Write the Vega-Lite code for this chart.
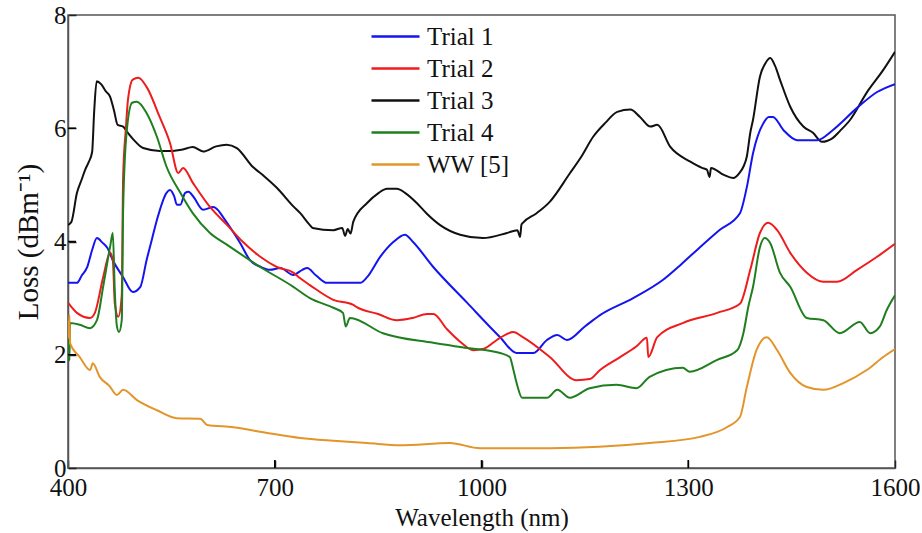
{
  "$schema": "https://vega.github.io/schema/vega-lite/v6.json",
  "width": 827,
  "height": 453,
  "autosize": {"type": "none"},
  "padding": {"left": 68, "top": 15, "right": 27, "bottom": 65},
  "background": "white",
  "config": {
    "font": "Liberation Serif",
    "view": {"stroke": "#555", "strokeWidth": 1.5},
    "axis": {
      "domainColor": "#555",
      "domainWidth": 1.5,
      "ticks": true,
      "tickColor": "#222",
      "tickWidth": 1.5,
      "grid": false,
      "labelFont": "Liberation Serif",
      "labelFontSize": 25,
      "labelColor": "#111",
      "titleFont": "Liberation Serif",
      "titleFontSize": 25,
      "titleFontWeight": "normal",
      "titleColor": "#111"
    },
    "legend": {"labelFont": "Liberation Serif", "labelFontSize": 25, "labelColor": "#111"}
  },
  "datasets": {
    "xticks": [{"wl": 700}, {"wl": 1000}, {"wl": 1300}],
    "yticks": [{"v": 2}, {"v": 4}, {"v": 6}],
    "curves": [
    {"s":"Trial 3","wl":400,"v":4.29},{"s":"Trial 3","wl":405,"v":4.35},{"s":"Trial 3","wl":413,"v":4.86},{"s":"Trial 3","wl":420,"v":5.1},{"s":"Trial 3","wl":425,"v":5.27},{"s":"Trial 3","wl":430,"v":5.4},{"s":"Trial 3","wl":435,"v":5.58},{"s":"Trial 3","wl":438,"v":6.3},{"s":"Trial 3","wl":441.6,"v":6.83},{"s":"Trial 3","wl":448,"v":6.78},{"s":"Trial 3","wl":455,"v":6.65},{"s":"Trial 3","wl":461,"v":6.56},{"s":"Trial 3","wl":467,"v":6.3},{"s":"Trial 3","wl":472,"v":6.06},{"s":"Trial 3","wl":480,"v":6.03},{"s":"Trial 3","wl":485,"v":5.95},{"s":"Trial 3","wl":495,"v":5.8},{"s":"Trial 3","wl":509,"v":5.65},{"s":"Trial 3","wl":533,"v":5.6},{"s":"Trial 3","wl":552,"v":5.6},{"s":"Trial 3","wl":565,"v":5.62},{"s":"Trial 3","wl":581,"v":5.67},{"s":"Trial 3","wl":596,"v":5.59},{"s":"Trial 3","wl":615,"v":5.68},{"s":"Trial 3","wl":630,"v":5.71},{"s":"Trial 3","wl":645,"v":5.65},{"s":"Trial 3","wl":668,"v":5.32},{"s":"Trial 3","wl":685,"v":5.15},{"s":"Trial 3","wl":703,"v":4.95},{"s":"Trial 3","wl":727,"v":4.62},{"s":"Trial 3","wl":737,"v":4.5},{"s":"Trial 3","wl":751,"v":4.29},{"s":"Trial 3","wl":755,"v":4.24},{"s":"Trial 3","wl":785,"v":4.2},{"s":"Trial 3","wl":798,"v":4.24},{"s":"Trial 3","wl":802,"v":4.1},{"s":"Trial 3","wl":806,"v":4.22},{"s":"Trial 3","wl":810,"v":4.14},{"s":"Trial 3","wl":814,"v":4.35},{"s":"Trial 3","wl":834,"v":4.68},{"s":"Trial 3","wl":850,"v":4.85},{"s":"Trial 3","wl":863,"v":4.93},{"s":"Trial 3","wl":877,"v":4.93},{"s":"Trial 3","wl":890,"v":4.85},{"s":"Trial 3","wl":906,"v":4.68},{"s":"Trial 3","wl":920,"v":4.5},{"s":"Trial 3","wl":940,"v":4.29},{"s":"Trial 3","wl":969,"v":4.12},{"s":"Trial 3","wl":1002,"v":4.06},{"s":"Trial 3","wl":1037,"v":4.15},{"s":"Trial 3","wl":1052,"v":4.2},{"s":"Trial 3","wl":1056,"v":4.08},{"s":"Trial 3","wl":1058,"v":4.3},{"s":"Trial 3","wl":1060,"v":4.33},{"s":"Trial 3","wl":1080,"v":4.5},{"s":"Trial 3","wl":1099,"v":4.7},{"s":"Trial 3","wl":1128,"v":5.2},{"s":"Trial 3","wl":1145,"v":5.5},{"s":"Trial 3","wl":1162,"v":5.85},{"s":"Trial 3","wl":1180,"v":6.1},{"s":"Trial 3","wl":1197,"v":6.29},{"s":"Trial 3","wl":1216,"v":6.33},{"s":"Trial 3","wl":1230,"v":6.2},{"s":"Trial 3","wl":1245,"v":6.03},{"s":"Trial 3","wl":1255,"v":6.06},{"s":"Trial 3","wl":1274,"v":5.67},{"s":"Trial 3","wl":1303,"v":5.41},{"s":"Trial 3","wl":1320,"v":5.3},{"s":"Trial 3","wl":1327,"v":5.27},{"s":"Trial 3","wl":1331,"v":5.14},{"s":"Trial 3","wl":1333,"v":5.3},{"s":"Trial 3","wl":1351,"v":5.18},{"s":"Trial 3","wl":1365,"v":5.12},{"s":"Trial 3","wl":1375,"v":5.22},{"s":"Trial 3","wl":1380,"v":5.32},{"s":"Trial 3","wl":1385,"v":5.5},{"s":"Trial 3","wl":1390,"v":5.92},{"s":"Trial 3","wl":1394,"v":6.15},{"s":"Trial 3","wl":1404,"v":6.91},{"s":"Trial 3","wl":1412,"v":7.15},{"s":"Trial 3","wl":1419,"v":7.24},{"s":"Trial 3","wl":1426,"v":7.1},{"s":"Trial 3","wl":1433,"v":6.86},{"s":"Trial 3","wl":1448,"v":6.38},{"s":"Trial 3","wl":1467,"v":6.03},{"s":"Trial 3","wl":1481,"v":5.92},{"s":"Trial 3","wl":1494,"v":5.76},{"s":"Trial 3","wl":1510,"v":5.83},{"s":"Trial 3","wl":1520,"v":5.95},{"s":"Trial 3","wl":1535,"v":6.15},{"s":"Trial 3","wl":1559,"v":6.63},{"s":"Trial 3","wl":1583,"v":7.03},{"s":"Trial 3","wl":1600,"v":7.35},

    {"s":"Trial 1","wl":400,"v":3.27},{"s":"Trial 1","wl":413,"v":3.27},{"s":"Trial 1","wl":420,"v":3.4},{"s":"Trial 1","wl":428,"v":3.55},{"s":"Trial 1","wl":435,"v":3.85},{"s":"Trial 1","wl":442,"v":4.06},{"s":"Trial 1","wl":450,"v":3.98},{"s":"Trial 1","wl":457,"v":3.89},{"s":"Trial 1","wl":465,"v":3.67},{"s":"Trial 1","wl":480,"v":3.37},{"s":"Trial 1","wl":494,"v":3.11},{"s":"Trial 1","wl":505,"v":3.2},{"s":"Trial 1","wl":514,"v":3.67},{"s":"Trial 1","wl":522,"v":4.05},{"s":"Trial 1","wl":529,"v":4.38},{"s":"Trial 1","wl":543,"v":4.86},{"s":"Trial 1","wl":548,"v":4.91},{"s":"Trial 1","wl":554,"v":4.8},{"s":"Trial 1","wl":558,"v":4.65},{"s":"Trial 1","wl":563,"v":4.65},{"s":"Trial 1","wl":570,"v":4.86},{"s":"Trial 1","wl":575,"v":4.88},{"s":"Trial 1","wl":582,"v":4.79},{"s":"Trial 1","wl":596,"v":4.56},{"s":"Trial 1","wl":611,"v":4.61},{"s":"Trial 1","wl":618,"v":4.55},{"s":"Trial 1","wl":625,"v":4.43},{"s":"Trial 1","wl":650,"v":3.97},{"s":"Trial 1","wl":664,"v":3.67},{"s":"Trial 1","wl":680,"v":3.55},{"s":"Trial 1","wl":693,"v":3.5},{"s":"Trial 1","wl":708,"v":3.53},{"s":"Trial 1","wl":727,"v":3.41},{"s":"Trial 1","wl":740,"v":3.5},{"s":"Trial 1","wl":747,"v":3.53},{"s":"Trial 1","wl":760,"v":3.4},{"s":"Trial 1","wl":776,"v":3.27},{"s":"Trial 1","wl":824,"v":3.27},{"s":"Trial 1","wl":834,"v":3.37},{"s":"Trial 1","wl":853,"v":3.73},{"s":"Trial 1","wl":872,"v":3.99},{"s":"Trial 1","wl":889,"v":4.12},{"s":"Trial 1","wl":900,"v":4.0},{"s":"Trial 1","wl":930,"v":3.55},{"s":"Trial 1","wl":979,"v":2.92},{"s":"Trial 1","wl":1027,"v":2.31},{"s":"Trial 1","wl":1051,"v":2.03},{"s":"Trial 1","wl":1075,"v":2.03},{"s":"Trial 1","wl":1095,"v":2.26},{"s":"Trial 1","wl":1110,"v":2.35},{"s":"Trial 1","wl":1124,"v":2.26},{"s":"Trial 1","wl":1150,"v":2.5},{"s":"Trial 1","wl":1172,"v":2.7},{"s":"Trial 1","wl":1220,"v":3.0},{"s":"Trial 1","wl":1263,"v":3.32},{"s":"Trial 1","wl":1290,"v":3.6},{"s":"Trial 1","wl":1317,"v":3.9},{"s":"Trial 1","wl":1345,"v":4.2},{"s":"Trial 1","wl":1375,"v":4.5},{"s":"Trial 1","wl":1385,"v":4.96},{"s":"Trial 1","wl":1394,"v":5.56},{"s":"Trial 1","wl":1409,"v":6.09},{"s":"Trial 1","wl":1417,"v":6.2},{"s":"Trial 1","wl":1423,"v":6.2},{"s":"Trial 1","wl":1438,"v":5.97},{"s":"Trial 1","wl":1458,"v":5.79},{"s":"Trial 1","wl":1487,"v":5.79},{"s":"Trial 1","wl":1510,"v":5.97},{"s":"Trial 1","wl":1545,"v":6.36},{"s":"Trial 1","wl":1574,"v":6.64},{"s":"Trial 1","wl":1600,"v":6.78},

    {"s":"Trial 2","wl":400,"v":2.92},{"s":"Trial 2","wl":413,"v":2.74},{"s":"Trial 2","wl":432,"v":2.65},{"s":"Trial 2","wl":439,"v":2.74},{"s":"Trial 2","wl":451,"v":3.37},{"s":"Trial 2","wl":461,"v":3.8},{"s":"Trial 2","wl":465,"v":3.67},{"s":"Trial 2","wl":468,"v":2.9},{"s":"Trial 2","wl":473,"v":2.67},{"s":"Trial 2","wl":478,"v":3.05},{"s":"Trial 2","wl":480,"v":5.14},{"s":"Trial 2","wl":484,"v":6.0},{"s":"Trial 2","wl":487,"v":6.5},{"s":"Trial 2","wl":494,"v":6.86},{"s":"Trial 2","wl":502,"v":6.89},{"s":"Trial 2","wl":514,"v":6.73},{"s":"Trial 2","wl":533,"v":6.2},{"s":"Trial 2","wl":548,"v":5.74},{"s":"Trial 2","wl":560,"v":5.21},{"s":"Trial 2","wl":567,"v":5.3},{"s":"Trial 2","wl":581,"v":5.04},{"s":"Trial 2","wl":606,"v":4.61},{"s":"Trial 2","wl":631,"v":4.29},{"s":"Trial 2","wl":654,"v":3.99},{"s":"Trial 2","wl":679,"v":3.73},{"s":"Trial 2","wl":703,"v":3.55},{"s":"Trial 2","wl":727,"v":3.45},{"s":"Trial 2","wl":737,"v":3.35},{"s":"Trial 2","wl":751,"v":3.23},{"s":"Trial 2","wl":785,"v":2.97},{"s":"Trial 2","wl":814,"v":2.88},{"s":"Trial 2","wl":819,"v":2.84},{"s":"Trial 2","wl":850,"v":2.72},{"s":"Trial 2","wl":877,"v":2.61},{"s":"Trial 2","wl":900,"v":2.65},{"s":"Trial 2","wl":921,"v":2.72},{"s":"Trial 2","wl":930,"v":2.72},{"s":"Trial 2","wl":950,"v":2.45},{"s":"Trial 2","wl":969,"v":2.23},{"s":"Trial 2","wl":988,"v":2.08},{"s":"Trial 2","wl":1002,"v":2.1},{"s":"Trial 2","wl":1027,"v":2.3},{"s":"Trial 2","wl":1046,"v":2.4},{"s":"Trial 2","wl":1060,"v":2.31},{"s":"Trial 2","wl":1099,"v":1.96},{"s":"Trial 2","wl":1138,"v":1.55},{"s":"Trial 2","wl":1157,"v":1.57},{"s":"Trial 2","wl":1172,"v":1.73},{"s":"Trial 2","wl":1200,"v":1.95},{"s":"Trial 2","wl":1225,"v":2.15},{"s":"Trial 2","wl":1240,"v":2.3},{"s":"Trial 2","wl":1242,"v":1.96},{"s":"Trial 2","wl":1255,"v":2.31},{"s":"Trial 2","wl":1292,"v":2.56},{"s":"Trial 2","wl":1342,"v":2.74},{"s":"Trial 2","wl":1375,"v":2.9},{"s":"Trial 2","wl":1390,"v":3.5},{"s":"Trial 2","wl":1404,"v":4.15},{"s":"Trial 2","wl":1416,"v":4.33},{"s":"Trial 2","wl":1429,"v":4.2},{"s":"Trial 2","wl":1448,"v":3.8},{"s":"Trial 2","wl":1472,"v":3.45},{"s":"Trial 2","wl":1496,"v":3.29},{"s":"Trial 2","wl":1516,"v":3.29},{"s":"Trial 2","wl":1545,"v":3.5},{"s":"Trial 2","wl":1574,"v":3.73},{"s":"Trial 2","wl":1600,"v":3.96},

    {"s":"Trial 4","wl":400,"v":2.14},{"s":"Trial 4","wl":401,"v":2.6},{"s":"Trial 4","wl":402,"v":1.9},{"s":"Trial 4","wl":403,"v":2.56},{"s":"Trial 4","wl":417,"v":2.53},{"s":"Trial 4","wl":432,"v":2.47},{"s":"Trial 4","wl":442,"v":2.61},{"s":"Trial 4","wl":451,"v":3.2},{"s":"Trial 4","wl":461,"v":3.9},{"s":"Trial 4","wl":465,"v":4.15},{"s":"Trial 4","wl":468,"v":3.09},{"s":"Trial 4","wl":471,"v":2.5},{"s":"Trial 4","wl":474,"v":2.4},{"s":"Trial 4","wl":478,"v":2.61},{"s":"Trial 4","wl":480,"v":4.56},{"s":"Trial 4","wl":485,"v":5.92},{"s":"Trial 4","wl":493,"v":6.45},{"s":"Trial 4","wl":500,"v":6.47},{"s":"Trial 4","wl":514,"v":6.27},{"s":"Trial 4","wl":529,"v":5.85},{"s":"Trial 4","wl":543,"v":5.32},{"s":"Trial 4","wl":563,"v":4.86},{"s":"Trial 4","wl":581,"v":4.5},{"s":"Trial 4","wl":606,"v":4.15},{"s":"Trial 4","wl":631,"v":3.94},{"s":"Trial 4","wl":679,"v":3.55},{"s":"Trial 4","wl":727,"v":3.2},{"s":"Trial 4","wl":751,"v":3.0},{"s":"Trial 4","wl":785,"v":2.83},{"s":"Trial 4","wl":799,"v":2.74},{"s":"Trial 4","wl":803,"v":2.5},{"s":"Trial 4","wl":809,"v":2.65},{"s":"Trial 4","wl":857,"v":2.38},{"s":"Trial 4","wl":930,"v":2.21},{"s":"Trial 4","wl":979,"v":2.12},{"s":"Trial 4","wl":1027,"v":2.03},{"s":"Trial 4","wl":1041,"v":1.96},{"s":"Trial 4","wl":1046,"v":1.75},{"s":"Trial 4","wl":1051,"v":1.5},{"s":"Trial 4","wl":1059,"v":1.24},{"s":"Trial 4","wl":1095,"v":1.24},{"s":"Trial 4","wl":1110,"v":1.38},{"s":"Trial 4","wl":1128,"v":1.24},{"s":"Trial 4","wl":1157,"v":1.41},{"s":"Trial 4","wl":1196,"v":1.47},{"s":"Trial 4","wl":1225,"v":1.41},{"s":"Trial 4","wl":1244,"v":1.61},{"s":"Trial 4","wl":1292,"v":1.77},{"s":"Trial 4","wl":1302,"v":1.7},{"s":"Trial 4","wl":1342,"v":1.91},{"s":"Trial 4","wl":1371,"v":2.08},{"s":"Trial 4","wl":1380,"v":2.38},{"s":"Trial 4","wl":1387,"v":2.84},{"s":"Trial 4","wl":1394,"v":3.2},{"s":"Trial 4","wl":1404,"v":3.9},{"s":"Trial 4","wl":1411,"v":4.06},{"s":"Trial 4","wl":1419,"v":3.97},{"s":"Trial 4","wl":1433,"v":3.45},{"s":"Trial 4","wl":1448,"v":3.2},{"s":"Trial 4","wl":1472,"v":2.65},{"s":"Trial 4","wl":1496,"v":2.61},{"s":"Trial 4","wl":1520,"v":2.38},{"s":"Trial 4","wl":1549,"v":2.58},{"s":"Trial 4","wl":1564,"v":2.38},{"s":"Trial 4","wl":1578,"v":2.5},{"s":"Trial 4","wl":1588,"v":2.79},{"s":"Trial 4","wl":1600,"v":3.05},

    {"s":"WW [5]","wl":400,"v":2.6},{"s":"WW [5]","wl":401,"v":2.3},{"s":"WW [5]","wl":402,"v":2.7},{"s":"WW [5]","wl":403,"v":2.2},{"s":"WW [5]","wl":417,"v":1.96},{"s":"WW [5]","wl":432,"v":1.73},{"s":"WW [5]","wl":436,"v":1.85},{"s":"WW [5]","wl":446,"v":1.61},{"s":"WW [5]","wl":460,"v":1.45},{"s":"WW [5]","wl":471,"v":1.29},{"s":"WW [5]","wl":480,"v":1.38},{"s":"WW [5]","wl":500,"v":1.2},{"s":"WW [5]","wl":529,"v":1.02},{"s":"WW [5]","wl":558,"v":0.88},{"s":"WW [5]","wl":592,"v":0.87},{"s":"WW [5]","wl":602,"v":0.76},{"s":"WW [5]","wl":640,"v":0.72},{"s":"WW [5]","wl":689,"v":0.62},{"s":"WW [5]","wl":737,"v":0.53},{"s":"WW [5]","wl":785,"v":0.48},{"s":"WW [5]","wl":834,"v":0.44},{"s":"WW [5]","wl":882,"v":0.4},{"s":"WW [5]","wl":954,"v":0.44},{"s":"WW [5]","wl":998,"v":0.35},{"s":"WW [5]","wl":1099,"v":0.35},{"s":"WW [5]","wl":1244,"v":0.44},{"s":"WW [5]","wl":1317,"v":0.55},{"s":"WW [5]","wl":1356,"v":0.72},{"s":"WW [5]","wl":1375,"v":0.9},{"s":"WW [5]","wl":1385,"v":1.43},{"s":"WW [5]","wl":1399,"v":2.08},{"s":"WW [5]","wl":1414,"v":2.31},{"s":"WW [5]","wl":1429,"v":2.08},{"s":"WW [5]","wl":1448,"v":1.68},{"s":"WW [5]","wl":1472,"v":1.43},{"s":"WW [5]","wl":1496,"v":1.38},{"s":"WW [5]","wl":1525,"v":1.5},{"s":"WW [5]","wl":1559,"v":1.73},{"s":"WW [5]","wl":1583,"v":1.96},{"s":"WW [5]","wl":1600,"v":2.1}
    ]
  },
  "layer": [
    {
      "data": {"name": "curves"},
      "mark": {"type": "line", "strokeWidth": 2, "clip": true, "interpolate": "monotone"},
      "encoding": {
        "x": {"field": "wl", "type": "quantitative", "title": "Wavelength (nm)",
          "scale": {"domain": [400, 1600], "nice": false, "zero": false},
          "axis": {"values": [400, 700, 1000, 1300, 1600], "format": "d", "tickSize": -8, "labelPadding": 15, "titlePadding": 5, "labelFlush": false}},
        "y": {"field": "v", "type": "quantitative", "title": "Loss (dBm⁻¹)",
          "scale": {"domain": [0, 8], "nice": false},
          "axis": {"values": [0, 2, 4, 6, 8], "format": "d", "tickSize": -8, "labelPadding": 10, "titlePadding": 10, "titleFontSize": 29, "labelFlush": false}},
        "color": {"field": "s", "type": "nominal",
          "scale": {"domain": ["Trial 1", "Trial 2", "Trial 3", "Trial 4", "WW [5]"],
            "range": ["#1414f0", "#ee1c1c", "#111111", "#1f7f1f", "#e3952a"]},
          "legend": {"title": null, "orient": "none", "legendX": 310, "legendY": 4,
            "symbolType": "M-1.5,0L1.5,0", "symbolSize": 1024, "symbolStrokeWidth": 2.5,
            "labelFont": "Liberation Serif", "labelFontSize": 25, "labelColor": "#111",
            "rowPadding": 1, "labelOffset": 14}
        }
      }
    },
    {
      "data": {"name": "xticks"},
      "mark": {"type": "rule", "color": "#000", "strokeWidth": 1.5},
      "encoding": {
        "x": {"field": "wl", "type": "quantitative"},
        "y": {"datum": 0},
        "y2": {"datum": 0.14}
      }
    },
    {
      "data": {"name": "yticks"},
      "mark": {"type": "rule", "color": "#000", "strokeWidth": 1.5},
      "encoding": {
        "y": {"field": "v", "type": "quantitative"},
        "x": {"datum": 400},
        "x2": {"datum": 411.6}
      }
    }
  ]
}
